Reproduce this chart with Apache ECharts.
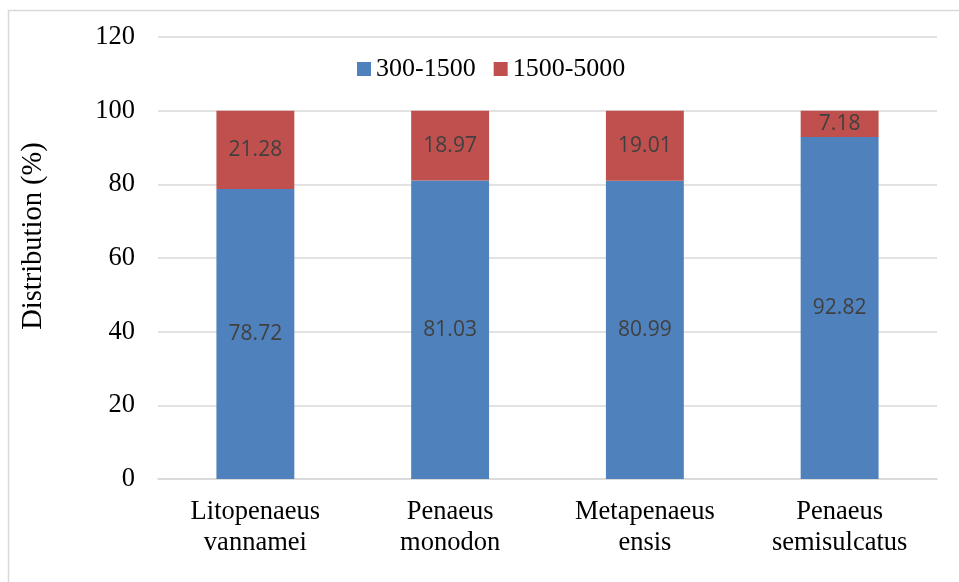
<!DOCTYPE html>
<html>
<head>
<meta charset="utf-8">
<script src="https://cdn.jsdelivr.net/npm/echarts@6/dist/echarts.min.js"></script>
<style>
html,body{margin:0;padding:0;background:#fff;}
#chart{width:959px;height:582px;}
</style>
</head>
<body>
<div id="chart"></div>
<script>
var categories = ['Litopenaeus\nvannamei', 'Penaeus\nmonodon', 'Metapenaeus\nensis', 'Penaeus\nsemisulcatus'];
var seriesNames = ['300-1500', '1500-5000'];
var lowRange = [78.72, 81.03, 80.99, 92.82];
var highRange = [21.28, 18.97, 19.01, 7.18];
var yTicks = [0, 20, 40, 60, 80, 100, 120];

var chart = echarts.init(document.getElementById('chart'), null, {renderer: 'canvas'});
var serif = '"Liberation Serif", "Times New Roman", serif';
var sans = '"Open Sans", "Liberation Sans", sans-serif';
var labelStyle = {show: true, position: 'inside', color: '#404040', fontFamily: sans, fontSize: 21,
  formatter: function (p) { return p.value.toFixed(2); }};

chart.setOption({
  animation: false,
  backgroundColor: '#fff',
  graphic: [{
    type: 'rect', left: 6, top: 8, z: -1, silent: true,
    shape: {width: 1000, height: 700},
    style: {fill: 'none', stroke: '#d9d9d9', lineWidth: 1.5}
  }],
  legend: {
    data: seriesNames,
    left: 352, top: 51,
    itemWidth: 14, itemHeight: 14, itemGap: 18,
    icon: 'rect',
    textStyle: {fontFamily: serif, fontSize: 26, color: '#000'}
  },
  grid: {left: 158, right: 22, top: 37, bottom: 103, containLabel: false, outerBoundsMode: 'none'},
  xAxis: {
    type: 'category',
    data: categories,
    axisLine: {show: true, lineStyle: {color: '#d9d9d9', width: 1.5}},
    axisTick: {show: false},
    axisLabel: {fontFamily: serif, fontSize: 26.5, color: '#000', lineHeight: 31, margin: 18}
  },
  yAxis: {
    type: 'value',
    min: yTicks[0], max: yTicks[yTicks.length - 1], interval: 20,
    name: 'Distribution (%)',
    nameLocation: 'middle',
    nameGap: 110,
    nameRotate: 90,
    nameTextStyle: {fontFamily: serif, fontSize: 28.5, color: '#000', padding: [0, 0, 0, 44]},
    axisLine: {show: false},
    axisTick: {show: false},
    splitLine: {lineStyle: {color: '#d9d9d9', width: 1.5}},
    axisLabel: {fontFamily: serif, fontSize: 26.5, color: '#000', margin: 23}
  },
  series: [
    {name: seriesNames[0], type: 'bar', stack: 'total', data: lowRange, barWidth: '40%',
     itemStyle: {color: '#4F81BD'}, label: labelStyle},
    {name: seriesNames[1], type: 'bar', stack: 'total', data: highRange, barWidth: '40%',
     itemStyle: {color: '#C0504D'}, label: labelStyle}
  ]
});
</script>
</body>
</html>
